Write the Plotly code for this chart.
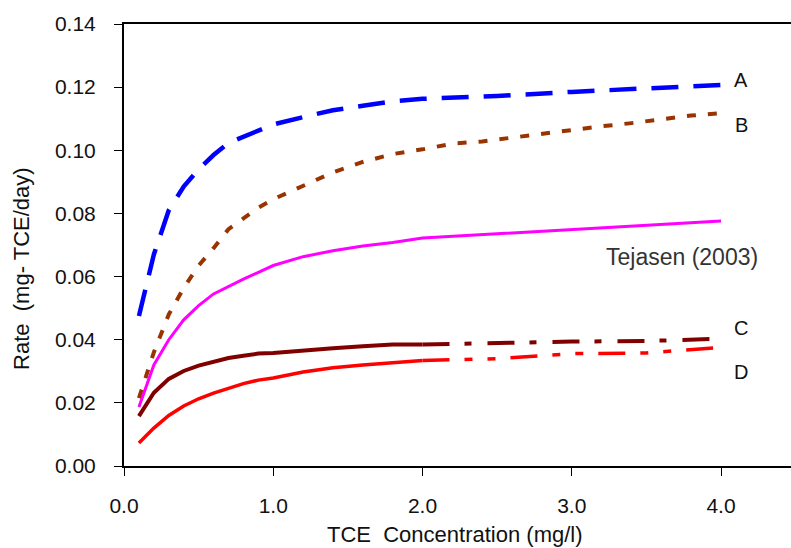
import plotly.graph_objects as go

# ---- data ----
x_a = [0.1, 0.2, 0.3, 0.4, 0.5, 0.6, 0.7, 0.8, 1.0, 1.2, 1.4, 1.6, 1.8, 2.0, 2.5, 3.0, 3.5, 4.0]
y_a = [0.0475, 0.067, 0.081, 0.0885, 0.094, 0.0985, 0.1023, 0.1043, 0.1082, 0.1105, 0.1127,
       0.1141, 0.1155, 0.1163, 0.1172, 0.1185, 0.1196, 0.1207]

x_b = [0.1, 0.2, 0.3, 0.4, 0.5, 0.6, 0.7, 0.8, 0.9, 1.0, 1.2, 1.4, 1.6, 1.8, 2.0, 2.2, 2.4,
       2.6, 2.8, 3.0, 3.2, 3.4, 3.6, 3.8, 4.0]
y_b = [0.0215, 0.036, 0.048, 0.0564, 0.0635, 0.069, 0.075, 0.0783, 0.0818, 0.0845, 0.0887,
       0.093, 0.0963, 0.0988, 0.1003, 0.1021, 0.1028, 0.104, 0.1054, 0.1064, 0.1076, 0.1086,
       0.1099, 0.111, 0.1118]

x_t = [0.1, 0.2, 0.3, 0.4, 0.5, 0.6, 0.8, 1.0, 1.2, 1.4, 1.6, 1.8, 2.0, 2.5, 3.0, 3.5, 4.0]
y_t = [0.0187, 0.032, 0.040, 0.0463, 0.0508, 0.0545, 0.0592, 0.0635, 0.0663, 0.0682, 0.0697,
       0.0708, 0.0722, 0.0735, 0.0748, 0.0762, 0.0776]

x_c = [0.1, 0.2, 0.3, 0.4, 0.5, 0.6, 0.7, 0.8, 0.9, 1.0, 1.2, 1.4, 1.6, 1.8, 2.0, 2.5, 3.0, 3.5, 4.0]
y_c = [0.0158, 0.0232, 0.0276, 0.0301, 0.0318, 0.0331, 0.0342, 0.0349, 0.0356, 0.0358, 0.0367,
       0.0373, 0.0379, 0.0385, 0.0385, 0.039, 0.0394, 0.0396, 0.0403]

x_d = [0.1, 0.2, 0.3, 0.4, 0.5, 0.6, 0.7, 0.8, 0.9, 1.0, 1.2, 1.4, 1.6, 1.8, 2.0, 2.5, 3.0, 3.5, 4.0]
y_d = [0.0073, 0.012, 0.016, 0.019, 0.0213, 0.0231, 0.0246, 0.0261, 0.0272, 0.0279, 0.0298,
       0.0311, 0.032, 0.0327, 0.0334, 0.034, 0.0356, 0.0358, 0.0376]

x_ticks = [0, 1, 2, 3, 4]
x_tick_labels = ["0.0", "1.0", "2.0", "3.0", "4.0"]
y_ticks = [0, 0.02, 0.04, 0.06, 0.08, 0.10, 0.12, 0.14]
y_tick_labels = ["0.00", "0.02", "0.04", "0.06", "0.08", "0.10", "0.12", "0.14"]

FONT = "Liberation Sans, Arial, sans-serif"

fig = go.Figure()

fig.add_trace(go.Scatter(x=x_a, y=y_a, mode="lines", name="A",
                         line=dict(color="#0000FF", width=4.5, dash="27px,15px")))
fig.add_trace(go.Scatter(x=x_b, y=y_b, mode="lines", name="B",
                         line=dict(color="#993300", width=4, dash="9px,12px")))
fig.add_trace(go.Scatter(x=x_t, y=y_t, mode="lines", name="Tejasen (2003)",
                         line=dict(color="#FF00FF", width=3)))

# C and D: solid at low concentration, dash-dot patterns from 2.0 on
split_c = x_c.index(2.0)
fig.add_trace(go.Scatter(x=x_c[:split_c + 1], y=y_c[:split_c + 1], mode="lines", name="C",
                         line=dict(color="#800000", width=4)))
fig.add_trace(go.Scatter(x=x_c[split_c:], y=y_c[split_c:], mode="lines", name="C",
                         line=dict(color="#800000", width=4, dash="27px,15px,7px,16px")))
split_d = x_d.index(2.0)
fig.add_trace(go.Scatter(x=x_d[:split_d + 1], y=y_d[:split_d + 1], mode="lines", name="D",
                         line=dict(color="#FF0000", width=3.5)))
fig.add_trace(go.Scatter(x=x_d[split_d:], y=y_d[split_d:], mode="lines", name="D",
                         line=dict(color="#FF0000", width=3.5,
                                   dash="27px,15px,8px,15px,8px,15px")))

annots = [
    dict(x=4.134, y=0.1223, text="A", font=dict(size=20, color="#111111")),
    dict(x=4.134, y=0.1080, text="B", font=dict(size=20, color="#111111")),
    dict(x=4.134, y=0.0437, text="C", font=dict(size=20, color="#111111")),
    dict(x=4.134, y=0.0298, text="D", font=dict(size=20, color="#111111")),
    dict(x=3.74, y=0.0662, text="Tejasen (2003)", font=dict(size=23, color="#333333")),
]
for a in annots:
    fig.add_annotation(xref="x", yref="y", showarrow=False, xanchor="center",
                       yanchor="middle", **a)

fig.add_annotation(xref="paper", yref="paper", x=0.496, y=-0.154,
                   text="TCE\u00a0 Concentration (mg/l)", showarrow=False,
                   xanchor="center", yanchor="middle",
                   font=dict(size=22, color="#111111"))
fig.add_annotation(xref="paper", yref="paper", x=-0.153, y=0.448,
                   text="Rate\u00a0 (mg- TCE/day)", showarrow=False, textangle=-90,
                   xanchor="center", yanchor="middle",
                   font=dict(size=22, color="#111111"))

fig.update_layout(
    width=791, height=548,
    margin=dict(l=124, r=0, t=24, b=82),
    paper_bgcolor="white", plot_bgcolor="white",
    showlegend=False,
    font=dict(family=FONT, color="#111111"),
    xaxis=dict(range=[0, 4.469], tickvals=x_ticks, ticktext=x_tick_labels,
               showgrid=False, zeroline=False, showline=True, linecolor="black",
               linewidth=2, mirror=True, ticks="outside", ticklen=8, tickwidth=1,
               tickcolor="black", tickfont=dict(size=21, color="#111111"),
               ticklabelstandoff=12),
    yaxis=dict(range=[0, 0.14], tickvals=y_ticks, ticktext=y_tick_labels,
               showgrid=False, zeroline=False, showline=True, linecolor="black",
               linewidth=2, ticks="outside", ticklen=8, tickwidth=1, tickcolor="black",
               tickfont=dict(size=21, color="#111111"), ticklabelstandoff=14),
)

fig.write_html("out.html")
